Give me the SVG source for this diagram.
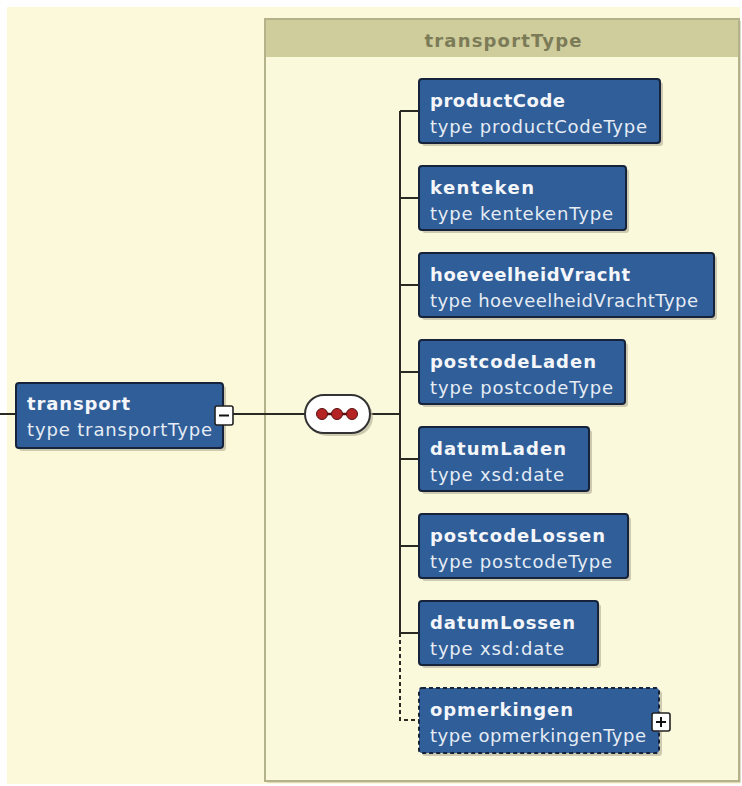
<svg xmlns="http://www.w3.org/2000/svg" width="742" height="786" viewBox="0 0 742 786">
  <defs>
    <style>
      .bg { fill: #fbf9da; }
      .el rect.box { fill: #2f5e98; stroke: #17233a; stroke-width: 2; }
      .el rect.shadow { fill: #b9b79c; opacity: 0.7; }
      .opt rect.box { stroke-dasharray: 4 3; }
      .name { font-family: "DejaVu Sans", Verdana, sans-serif; font-weight: bold; font-size: 18px; fill: #f4f6fa; }
      .type { font-family: "DejaVu Sans", Verdana, sans-serif; font-size: 18px; fill: #e6ecf4; }
      .conn { stroke: #2a2a22; stroke-width: 2; fill: none; }
      .dash { stroke-dasharray: 4 3; }
      .toggle rect { fill: #ffffff; stroke: #222222; stroke-width: 1.6; }
      .toggle path { stroke: #111111; stroke-width: 2; fill: none; }
    </style>
  </defs>

  <!-- canvas -->
  <rect x="0" y="0" width="742" height="786" fill="#ffffff"/>
  <rect class="bg" x="7" y="7" width="733" height="777"/>

  <!-- complex type container -->
  <g id="transportType">
    <rect x="267" y="21" width="474" height="762" fill="#c9c7a6" opacity="0.6"/>
    <rect x="265" y="19" width="474" height="762" fill="#fbf9dc" stroke="#b3b28a" stroke-width="2"/>
    <rect x="266" y="20" width="472" height="37" fill="#cfcd9c"/>
    <text x="503" y="47" text-anchor="middle" font-family="DejaVu Sans, Verdana, sans-serif" font-weight="bold" font-size="18" fill="#7c7b58" textLength="157" lengthAdjust="spacing">transportType</text>
  </g>

  <!-- connectors -->
  <g id="connectors">
    <line class="conn" x1="0" y1="414" x2="16" y2="414"/>
    <line class="conn" x1="233" y1="414" x2="305" y2="414"/>
    <line class="conn" x1="370" y1="414" x2="400" y2="414"/>
    <line class="conn" x1="400" y1="111" x2="400" y2="633"/>
    <line class="conn" x1="400" y1="111" x2="419" y2="111"/>
    <line class="conn" x1="400" y1="198" x2="419" y2="198"/>
    <line class="conn" x1="400" y1="285" x2="419" y2="285"/>
    <line class="conn" x1="400" y1="372" x2="419" y2="372"/>
    <line class="conn" x1="400" y1="459" x2="419" y2="459"/>
    <line class="conn" x1="400" y1="546" x2="419" y2="546"/>
    <line class="conn" x1="400" y1="633" x2="419" y2="633"/>
    <path class="conn dash" d="M400 633 V720 H419"/>
  </g>

  <!-- root element -->
  <g id="transport" class="el">
    <rect class="shadow" x="19" y="386" width="207" height="65" rx="3"/>
    <rect class="box" x="16" y="383" width="207" height="65" rx="3"/>
    <text class="name" x="27" y="410" textLength="103" lengthAdjust="spacing">transport</text>
    <text class="type" x="27" y="436" textLength="185" lengthAdjust="spacing">type transportType</text>
    <g class="toggle">
      <rect x="215" y="406" width="18" height="19" rx="2"/>
      <path d="M219 415.5 H229"/>
    </g>
  </g>

  <!-- sequence compositor -->
  <g id="sequence">
    <rect x="308" y="398" width="65" height="38" rx="19" fill="#b9b79c" opacity="0.7"/>
    <rect x="305" y="395" width="65" height="38" rx="19" fill="#ffffff" stroke="#333333" stroke-width="2"/>
    <line x1="322" y1="414" x2="352" y2="414" stroke="#5a1010" stroke-width="2.5"/>
    <circle cx="322" cy="414" r="5.5" fill="#b42424" stroke="#5a1010" stroke-width="1"/>
    <circle cx="337" cy="414" r="5.5" fill="#b42424" stroke="#5a1010" stroke-width="1"/>
    <circle cx="352" cy="414" r="5.5" fill="#b42424" stroke="#5a1010" stroke-width="1"/>
  </g>

  <!-- child elements -->
  <g id="productCode" class="el">
    <rect class="shadow" x="422" y="82" width="241" height="64" rx="3"/>
    <rect class="box" x="419" y="79" width="241" height="64" rx="3"/>
    <text class="name" x="430" y="107" textLength="135" lengthAdjust="spacing">productCode</text>
    <text class="type" x="430" y="133" textLength="217" lengthAdjust="spacing">type productCodeType</text>
  </g>

  <g id="kenteken" class="el">
    <rect class="shadow" x="422" y="169" width="207" height="64" rx="3"/>
    <rect class="box" x="419" y="166" width="207" height="64" rx="3"/>
    <text class="name" x="430" y="194" textLength="104" lengthAdjust="spacing">kenteken</text>
    <text class="type" x="430" y="220" textLength="183" lengthAdjust="spacing">type kentekenType</text>
  </g>

  <g id="hoeveelheidVracht" class="el">
    <rect class="shadow" x="422" y="256" width="295" height="64" rx="3"/>
    <rect class="box" x="419" y="253" width="295" height="64" rx="3"/>
    <text class="name" x="430" y="281" textLength="200" lengthAdjust="spacing">hoeveelheidVracht</text>
    <text class="type" x="430" y="307" textLength="268" lengthAdjust="spacing">type hoeveelheidVrachtType</text>
  </g>

  <g id="postcodeLaden" class="el">
    <rect class="shadow" x="422" y="343" width="206" height="64" rx="3"/>
    <rect class="box" x="419" y="340" width="206" height="64" rx="3"/>
    <text class="name" x="430" y="368" textLength="166" lengthAdjust="spacing">postcodeLaden</text>
    <text class="type" x="430" y="394" textLength="183" lengthAdjust="spacing">type postcodeType</text>
  </g>

  <g id="datumLaden" class="el">
    <rect class="shadow" x="422" y="430" width="170" height="64" rx="3"/>
    <rect class="box" x="419" y="427" width="170" height="64" rx="3"/>
    <text class="name" x="430" y="455" textLength="136" lengthAdjust="spacing">datumLaden</text>
    <text class="type" x="430" y="481" textLength="134" lengthAdjust="spacing">type xsd:date</text>
  </g>

  <g id="postcodeLossen" class="el">
    <rect class="shadow" x="422" y="517" width="209" height="64" rx="3"/>
    <rect class="box" x="419" y="514" width="209" height="64" rx="3"/>
    <text class="name" x="430" y="542" textLength="175" lengthAdjust="spacing">postcodeLossen</text>
    <text class="type" x="430" y="568" textLength="182" lengthAdjust="spacing">type postcodeType</text>
  </g>

  <g id="datumLossen" class="el">
    <rect class="shadow" x="422" y="604" width="179" height="64" rx="3"/>
    <rect class="box" x="419" y="601" width="179" height="64" rx="3"/>
    <text class="name" x="430" y="629" textLength="145" lengthAdjust="spacing">datumLossen</text>
    <text class="type" x="430" y="655" textLength="134" lengthAdjust="spacing">type xsd:date</text>
  </g>

  <g id="opmerkingen" class="el opt">
    <rect class="shadow" x="422" y="691" width="240" height="65" rx="3"/>
    <rect class="box" x="419" y="688" width="240" height="65" rx="3"/>
    <text class="name" x="430" y="716" textLength="143" lengthAdjust="spacing">opmerkingen</text>
    <text class="type" x="430" y="742" textLength="216" lengthAdjust="spacing">type opmerkingenType</text>
    <g class="toggle">
      <rect x="652" y="713" width="18" height="18" rx="2"/>
      <path d="M656 722 H666 M661 717 V727"/>
    </g>
  </g>
</svg>
